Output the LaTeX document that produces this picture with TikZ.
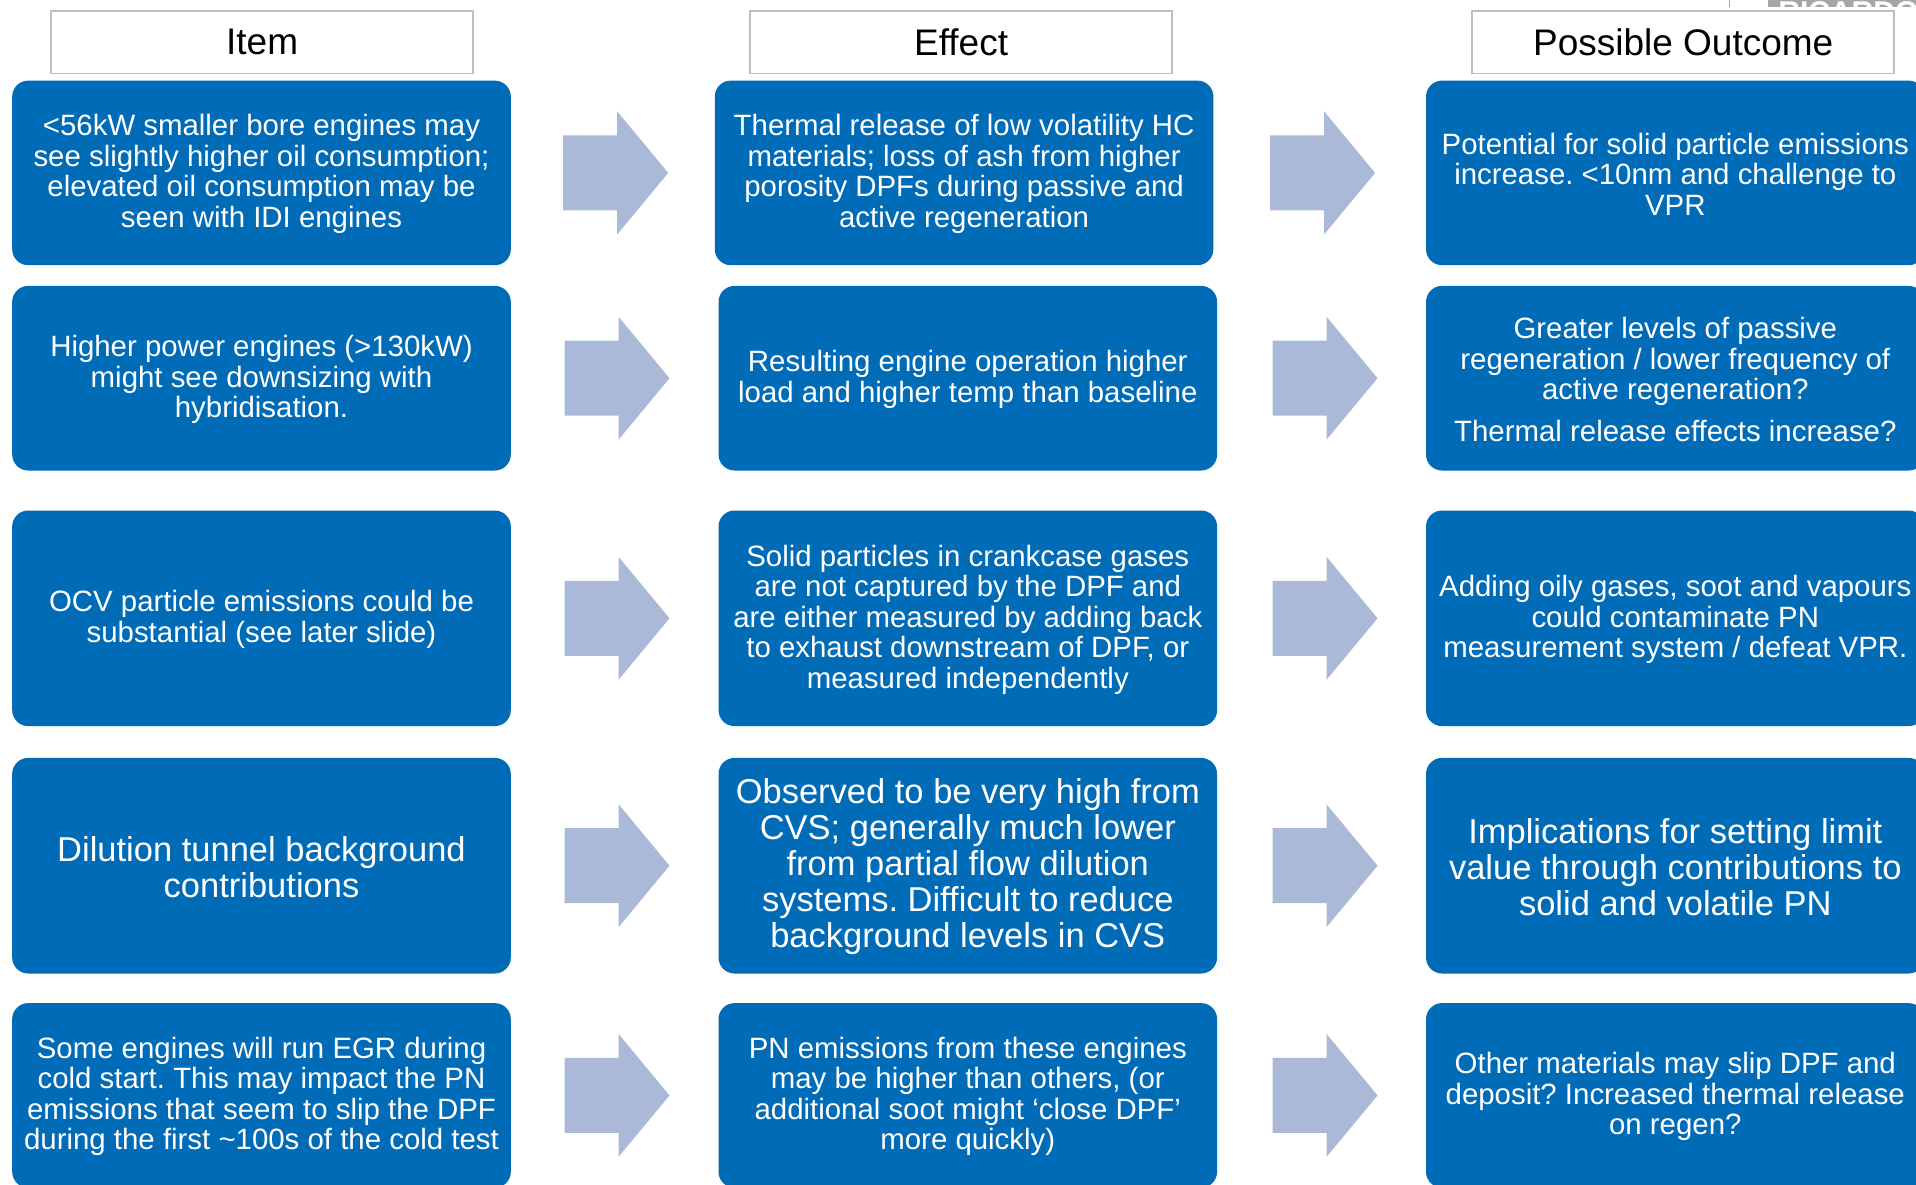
\documentclass[tikz,border=0pt]{standalone}
\usepackage{fontspec}
\setmainfont{Liberation Sans}
\frenchspacing
\definecolor{boxblue}{RGB}{0,107,182}
\definecolor{arrowblue}{RGB}{171,185,216}
\definecolor{rulegrey}{RGB}{191,191,191}
\definecolor{bargrey}{RGB}{166,166,168}
\tikzset{
  headbox/.style={draw=rulegrey, line width=0.8pt, fill=white, minimum width=211pt,
    minimum height=31.1pt, inner sep=0pt, font=\fontsize{18.5pt}{20pt}\selectfont},
  bluebox/.style={fill=boxblue, rounded corners=8pt, minimum width=249.3pt, inner sep=0pt},
  shortrow/.style={minimum height=92.3pt},
  tallrow/.style={minimum height=107.8pt},
  boxtext/.style={inner sep=0pt, text=white, align=center,
    font=\fontsize{14.7pt}{15.25pt}\selectfont},
  bigtext/.style={font=\fontsize{17.25pt}{18pt}\selectfont},
  blkarrow/.pic={
    \fill[arrowblue] (-52.5,-37.5) -- (1.5,-37.5) -- (1.5,-61.5) -- (52.5,0)
      -- (1.5,61.5) -- (1.5,37.5) -- (-52.5,37.5) -- cycle;
  }
}
% text of a box, set a little below the box centre
\newcommand\boxlabel[3][]{%
  \node[boxtext,#1] (#2t) at ([yshift=-0.6pt]#2.center) {#3};}
\begin{document}
\begin{tikzpicture}[x=0.5pt,y=-0.5pt]
\clip (0,0) rectangle (1916,1184);
\fill[white] (0,0) rectangle (1916,1184);

% logo strip in the top right corner
\draw[bargrey, line width=0.8pt] (1729.5,0) -- (1729.5,7);
\begin{scope}
  \clip (1768,0) rectangle (1916,6.5);
  \fill[bargrey] (1768,0) rectangle (1916,6.5);
  \node[anchor=north west, inner sep=0pt, text=white,
        font=\fontsize{15pt}{15pt}\selectfont\bfseries] (logo) at (1778,1) {RICARDO};
\end{scope}

% column headings
\node[headbox] (hitem) at (262.1,42.2) {Item};
\node[headbox] (heffect) at (961.1,42.2) {Effect};
\node[headbox] (houtcome) at (1683.2,42.2) {Possible Outcome};

% box backgrounds
\node[bluebox, shortrow] (i1) at (261.5,172.9) {};
\node[bluebox, shortrow] (e1) at (964.1,172.9) {};
\node[bluebox, shortrow] (o1) at (1675.3,172.9) {};
\node[bluebox, shortrow] (i2) at (261.5,378.2) {};
\node[bluebox, shortrow] (e2) at (967.8,378.2) {};
\node[bluebox, shortrow] (o2) at (1675.3,378.2) {};
\node[bluebox, tallrow] (i3) at (261.5,618.3) {};
\node[bluebox, tallrow] (e3) at (967.8,618.3) {};
\node[bluebox, tallrow] (o3) at (1675.3,618.3) {};
\node[bluebox, tallrow] (i4) at (261.5,865.7) {};
\node[bluebox, tallrow] (e4) at (967.8,865.7) {};
\node[bluebox, tallrow] (o4) at (1675.3,865.7) {};
\node[bluebox, shortrow] (i5) at (261.5,1095.4) {};
\node[bluebox, shortrow] (e5) at (967.8,1095.4) {};
\node[bluebox, shortrow] (o5) at (1675.3,1095.4) {};

% row 1
\boxlabel{i1}{<56kW smaller bore engines may\\see slightly higher oil consumption;\\elevated oil consumption may be\\seen with IDI engines}
\boxlabel{e1}{Thermal release of low volatility HC\\materials; loss of ash from higher\\porosity DPFs during passive and\\active regeneration}
\boxlabel{o1}{Potential for solid particle emissions\\increase. <10nm and challenge to\\VPR}

% row 2
\boxlabel{i2}{Higher power engines (>130kW)\\might see downsizing with\\hybridisation.}
\boxlabel{e2}{Resulting engine operation higher\\load and higher temp than baseline}
\boxlabel{o2}{Greater levels of passive\\regeneration / lower frequency of\\active regeneration?\\[5.5pt]Thermal release effects increase?}

% row 3
\boxlabel{i3}{OCV particle emissions could be\\substantial (see later slide)}
\boxlabel{e3}{Solid particles in crankcase gases\\are not captured by the DPF and\\are either measured by adding back\\to exhaust downstream of DPF, or\\measured independently}
\boxlabel{o3}{Adding oily gases, soot and vapours\\could contaminate PN\\measurement system / defeat VPR.}

% row 4
\boxlabel[bigtext]{i4}{Dilution tunnel background\\contributions}
\boxlabel[bigtext]{e4}{Observed to be very high from\\CVS; generally much lower\\from partial flow dilution\\systems. Difficult to reduce\\background levels in CVS}
\boxlabel[bigtext]{o4}{Implications for setting limit\\value through contributions to\\solid and volatile PN}

% row 5
\boxlabel{i5}{Some engines will run EGR during\\cold start. This may impact the PN\\emissions that seem to slip the DPF\\during the first \textasciitilde100s of the cold test}
\boxlabel{e5}{PN emissions from these engines\\may be higher than others, (or\\additional soot might ‘close DPF’\\more quickly)}
\boxlabel{o5}{Other materials may slip DPF and\\deposit? Increased thermal release\\on regen?}

% block arrows between the columns
\pic at (615.7,172.9) {blkarrow};
\pic at (1322.6,172.9) {blkarrow};
\foreach \y in {378.2,618.3,865.7,1095.4} {
  \pic at (617,\y) {blkarrow};
  \pic at (1325,\y) {blkarrow};
}
\end{tikzpicture}
\end{document}
